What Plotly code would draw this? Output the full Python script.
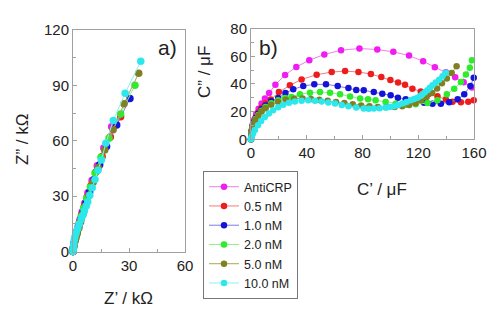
import plotly.graph_objects as go

series_names = ["AntiCRP", "0.5 nM", "1.0 nM", "2.0 nM", "5.0 nM", "10.0 nM"]
series_colors = ["#f01cf0", "#ee1c1c", "#1414d8", "#2cec2c", "#808022", "#2ce8ec"]
line_colors = ["#f07cf0", "#f07c7c", "#7c7ce8", "#8cf08c", "#a8a860", "#8cf0f0"]

# Panel a: Nyquist  Z' (kOhm), Z'' (kOhm)
za_re = [
    [0, 0.1, 0.3, 0.6, 1.0, 1.5, 2.1, 2.9, 3.8, 4.9, 6.3, 8.0, 10.2, 13.0, 16.5, 20.7],
    [0, 0.07, 0.2, 0.45, 0.8, 1.3, 1.9, 2.6, 3.5, 4.6, 6.0, 7.6, 9.7, 12.3, 15.6, 20.0, 25.5],
    [0, 0.1, 0.3, 0.6, 1.0, 1.6, 2.3, 3.2, 4.2, 5.5, 7.0, 8.9, 11.3, 14.3, 18.0, 23.4, 30.5],
    [0, 0.12, 0.35, 0.7, 1.1, 1.7, 2.4, 3.3, 4.4, 5.7, 7.3, 9.3, 11.8, 15.0, 19.3, 25.5, 33.2],
    [0, 0.1, 0.3, 0.6, 1.0, 1.6, 2.3, 3.1, 4.1, 5.3, 6.8, 8.6, 10.8, 13.5, 17.0, 21.5, 27.3, 35.2],
    [0, 0.1, 0.25, 0.45, 0.7, 1.1, 1.7, 2.5, 3.3, 4.3, 5.2, 6.1, 7.0, 7.9, 9.0, 10.3, 11.8, 13.4, 15.2, 17.6, 21.6, 27.9, 36.3],
]
za_im = [
    [0, 1.2, 2.7, 4.4, 6.3, 8.5, 11.0, 14.0, 17.4, 21.4, 26.2, 31.8, 38.5, 46.5, 56.0, 67.6],
    [0, 0.9, 2.1, 3.7, 5.5, 7.6, 10.0, 12.8, 16.0, 19.8, 24.3, 29.5, 35.8, 43.0, 51.5, 62.0, 73.0],
    [0, 1.1, 2.6, 4.3, 6.2, 8.5, 11.0, 14.0, 17.5, 21.6, 26.5, 32.2, 39.0, 47.0, 56.8, 68.5, 82.8],
    [0, 1.2, 2.9, 4.8, 6.8, 9.2, 12.0, 15.2, 19.0, 23.5, 28.8, 35.0, 42.5, 51.0, 61.3, 74.5, 90.0],
    [0, 0.9, 2.1, 3.6, 5.4, 7.5, 9.8, 12.6, 16.0, 20.0, 24.8, 30.5, 37.5, 45.5, 55.0, 66.0, 80.0, 96.5],
    [0, 1.2, 2.5, 4.0, 6.2, 8.2, 10.2, 12.5, 14.8, 17.2, 19.5, 22.0, 24.5, 27.0, 30.5, 34.5, 39.0, 44.0, 49.5, 58.6, 71.0, 85.7, 103.0],
]

# Panel b: complex capacitance C' (uF), C'' (uF)
cb_re = [
    [0, 0.2, 0.5, 1.2, 2.2, 3.8, 5.5, 7.6, 10, 13, 17.5, 24.5, 32.5, 41.8, 52.6, 64.6, 77.8, 90.6, 102.1, 113.4, 123.5, 131.9, 139.8, 146.5, 152.6, 158.5],
    [0, 0.2, 0.5, 1.1, 2, 3.4, 5.2, 7.5, 10.5, 14.2, 20, 27.9, 36.3, 47.1, 57.9, 67.5, 77.1, 86, 93.5, 100, 105.5, 110.5, 115.8, 121.8, 127.5, 133.8, 139.8, 144.6, 150.6, 155.9, 159.8],
    [0, 0.2, 0.5, 1.1, 2, 3.4, 5.2, 7.6, 10.5, 14.5, 19.5, 24.7, 30.3, 37.5, 45.4, 53.8, 62.2, 69.9, 75.5, 80.9, 88.1, 94.2, 100.2, 105.4, 111, 117, 124.2, 130.2, 136.2, 142.2, 148.3, 153, 157.4, 159.8],
    [0, 0.2, 0.5, 1.1, 2, 3.4, 5.2, 7.6, 10.5, 14.5, 19.5, 24.5, 29, 35.1, 42.3, 49.5, 56.7, 63.9, 71.1, 78.3, 84, 89.4, 96.6, 103.8, 111, 118.2, 126.6, 133.8, 140.5, 145.8, 150.6, 154.2, 157, 158.5],
    [0, 0.2, 0.5, 1.1, 2, 3.4, 5.2, 7.6, 10.5, 14.5, 19.5, 25, 31, 37, 43, 49, 55, 61, 67, 73, 79, 85, 91, 97, 103, 108.5, 113.5, 118, 122, 126, 130, 133.5, 137, 140.5, 144, 147.5],
    [0, 0.2, 0.6, 1.4, 2.8, 5, 7.3, 9.9, 12.8, 15.9, 19.5, 23.1, 27.2, 31.5, 36.3, 41.1, 45.9, 50.7, 55.5, 60.3, 65.1, 69.9, 75.5, 80.9, 84.5, 88.1, 92.3, 96.6, 99.6, 102.6, 105.6, 108.6, 111.6, 114.6, 117, 119.4, 121.2, 123, 124.8, 126.6, 128.4, 130.2, 132.6, 135, 137.4, 139.8],
]
cb_im = [
    [0, 3, 6.5, 10.5, 14, 18.5, 22, 25.8, 29.5, 33.5, 39.5, 46.5, 52.3, 57.2, 61.3, 64.4, 65.6, 64.9, 63.2, 60.5, 56.4, 52.1, 48.5, 44.9, 41.3, 37.5],
    [0, 3, 6, 9.5, 12.5, 16, 19.5, 22.8, 25.8, 28.7, 34.1, 39, 43.3, 46.7, 48.6, 49.3, 48.6, 47.2, 45, 42.8, 41, 39.4, 36.5, 34.6, 32.8, 31.2, 28.7, 27.1, 26.7, 27.1, 28.3],
    [0, 3, 5.8, 9, 12, 15.3, 18.5, 21.8, 24.5, 27.5, 29.8, 33.5, 36.1, 38.5, 39.7, 39.7, 38.5, 37.1, 35.6, 35.4, 34.1, 33, 31.8, 30.1, 28.9, 27.6, 26.5, 25.7, 25.7, 26.7, 28.9, 32.5, 38.5, 44.5],
    [0, 2.8, 5.5, 8.6, 11.5, 14.6, 17.6, 20.7, 23.3, 26, 28.2, 29.8, 30.5, 32.5, 33.7, 34.1, 33.7, 32.5, 31, 29.4, 29, 28.2, 26.9, 25.7, 25, 25.3, 26.2, 28.2, 32.5, 36.6, 41.4, 46.9, 51.8, 57.2],
    [0, 2.6, 5.2, 8.2, 11, 14, 17, 20, 22.5, 25, 27, 28.5, 29.3, 29.5, 29.2, 28.6, 27.8, 27, 26.2, 25.3, 24.5, 23.8, 23.3, 23.1, 23.3, 23.8, 24.7, 26, 28, 30.5, 33.5, 36.8, 40.5, 44, 48, 52.8],
    [0, 0.5, 2, 4.1, 6.8, 10.1, 13.2, 16.1, 18.6, 20.9, 23.2, 25, 26.4, 27.4, 27.9, 28.2, 27.9, 27.4, 26.6, 25.8, 24.8, 23.8, 23, 22.2, 22.1, 22.2, 22.5, 22.9, 23.3, 23.8, 24.7, 25.8, 26.9, 28.2, 29.1, 30.1, 31.2, 32.5, 34, 35.4, 37.2, 39, 41, 43.1, 45.6, 48.1],
]

FONT = "Liberation Sans, Arial, sans-serif"

fig = go.Figure()
for i, name in enumerate(series_names):
    fig.add_trace(go.Scatter(
        x=za_re[i], y=za_im[i], mode="lines+markers", name=name, showlegend=False,
        line=dict(color=line_colors[i], width=1),
        marker=dict(color=series_colors[i], size=7.5, line=dict(width=0)),
        xaxis="x", yaxis="y", cliponaxis=False))
for i, name in enumerate(series_names):
    fig.add_trace(go.Scatter(
        x=cb_re[i], y=cb_im[i], mode="lines+markers", name=name, showlegend=True,
        line=dict(color=line_colors[i], width=1),
        marker=dict(color=series_colors[i], size=6.5, line=dict(width=0)),
        xaxis="x2", yaxis="y2", cliponaxis=False))

axis_common = dict(showline=True, linecolor="#a0a0a0", linewidth=1, mirror=True,
                   ticks="inside", ticklen=4, tickcolor="#a0a0a0", showgrid=False,
                   zeroline=False, automargin=False,
                   tickfont=dict(family=FONT, size=15, color="#222"))
minor_common = dict(ticks="inside", ticklen=3, tickcolor="#a0a0a0", showgrid=False)

fig.update_layout(
    width=500, height=318, autosize=False,
    margin=dict(l=0, r=0, t=0, b=0, pad=0, autoexpand=False),
    paper_bgcolor="white", plot_bgcolor="white",
    font=dict(family=FONT, color="#222"),
    xaxis=dict(domain=[0.146, 0.37], range=[0, 60], tick0=0, dtick=30,
               minor=dict(dtick=15, **minor_common), anchor="y", **axis_common),
    yaxis=dict(domain=[0.209, 0.906], range=[0, 120], tick0=0, dtick=30,
               minor=dict(dtick=15, **minor_common), anchor="x", **axis_common),
    xaxis2=dict(domain=[0.502, 0.948], range=[0, 160], tick0=0, dtick=40,
                minor=dict(dtick=20, **minor_common), anchor="y2", **axis_common),
    yaxis2=dict(domain=[0.562, 0.910], range=[0, 80], tick0=0, dtick=20,
                minor=dict(dtick=10, **minor_common), anchor="x2", **axis_common),
    legend=dict(x=0.406, y=0.462, xanchor="left", yanchor="top",
                bordercolor="#777", borderwidth=1, bgcolor="white",
                tracegroupgap=0, entrywidth=62, entrywidthmode="pixels",
                font=dict(family=FONT, size=12.5, color="#222")),
    showlegend=True,
)

annots = [
    dict(text="a)", x=167 / 500, y=1 - 48 / 318, size=21, angle=0),
    dict(text="b)", x=268 / 500, y=1 - 48 / 318, size=21, angle=0),
    dict(text="Z” / kΩ", x=22 / 500, y=1 - 140 / 318, size=17, angle=-90),
    dict(text="Z’ / kΩ", x=128 / 500, y=1 - 298 / 318, size=17, angle=0),
    dict(text="C” / μF", x=205 / 500, y=1 - 72 / 318, size=17, angle=-90),
    dict(text="C’ / μF", x=382 / 500, y=1 - 189 / 318, size=17, angle=0),
]
for a in annots:
    fig.add_annotation(text=a["text"], x=a["x"], y=a["y"], xref="paper", yref="paper",
                       xanchor="center", yanchor="middle", showarrow=False,
                       textangle=a["angle"], font=dict(family=FONT, size=a["size"], color="#222"))

fig.write_html("out.html", config={"displayModeBar": False},
               post_script="document.body.style.margin='0';document.body.style.overflow='hidden';")
